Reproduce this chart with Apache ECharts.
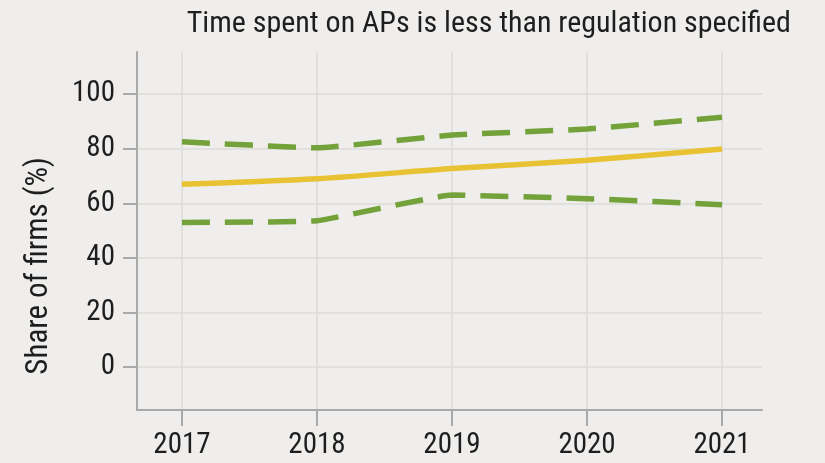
<!DOCTYPE html>
<html>
<head>
<meta charset="utf-8">
<script src="https://cdn.jsdelivr.net/npm/echarts@6/dist/echarts.min.js"></script>
<style>
  html, body { margin: 0; padding: 0; background: #efeeec; }
  #chart { width: 825px; height: 463px; }
</style>
</head>
<body>
<div id="chart"></div>
<script>
// values
const years = [2017, 2018, 2019, 2020, 2021];
const shareMid = [67.0, 69.0, 72.7, 75.8, 79.9];
const upperBand = [82.5, 80.3, 85.0, 87.2, 91.5];
const lowerBand = [53.0, 53.6, 63.0, 61.7, 59.5];
const yTicks = [0, 20, 40, 60, 80, 100];

const FONT = "'Liberation Sans Narrow', 'Roboto Condensed', 'DejaVu Sans Condensed', sans-serif";
const AXIS_GREY = '#a9a9a9';
const GRID_GREY = '#dcdbd9';

const pairs = (vals) => years.map((y, i) => [y, vals[i]]);

const myChart = echarts.init(document.getElementById('chart'));

const option = {
    backgroundColor: '#efeeec',
    animation: false,
    title: {
        text: 'Time spent on APs is less than regulation specified',
        right: 29,
        top: 4,
        textStyle: { fontFamily: FONT, fontSize: 30, fontWeight: 'normal', color: '#1e1e1e' }
    },
    grid: { left: 137, right: 63, top: 52, bottom: 53 },
    xAxis: {
        type: 'value',
        min: 2016.667,
        max: 2021.296,
        axisLine: { onZero: false, lineStyle: { color: AXIS_GREY, width: 2 } },
        axisTick: { customValues: years, length: 16, lineStyle: { color: AXIS_GREY, width: 2 } },
        axisLabel: {
            customValues: years,
            formatter: (v) => String(Math.round(v)),
            margin: 21,
            fontFamily: FONT, fontSize: 29, color: '#1e1e1e'
        },
        splitLine: { show: true, lineStyle: { color: GRID_GREY, width: 1.5 } }
    },
    yAxis: {
        type: 'value',
        min: -15.7,
        max: 115.4,
        axisLine: { show: true, onZero: false, lineStyle: { color: AXIS_GREY, width: 2 } },
        axisTick: { show: true, customValues: yTicks, length: 14, lineStyle: { color: AXIS_GREY, width: 2 } },
        axisLabel: {
            customValues: yTicks,
            margin: 22,
            fontFamily: FONT, fontSize: 29, color: '#1e1e1e'
        },
        splitLine: { show: true, lineStyle: { color: GRID_GREY, width: 1.5 } }
    },
    graphic: [{
        type: 'text',
        left: 24,
        top: 157,
        style: {
            text: 'Share of firms (%)',
            font: '31px ' + FONT,
            fill: '#1e1e1e'
        },
        rotation: Math.PI / 2,
        originX: 0,
        originY: 0
    }],
    series: [
        {
            name: 'upper',
            type: 'line',
            data: pairs(upperBand),
            showSymbol: false,
            smooth: 0.1,
            lineStyle: { color: '#74a23a', width: 5.5, type: [28, 15], cap: 'butt' }
        },
        {
            name: 'lower',
            type: 'line',
            data: pairs(lowerBand),
            showSymbol: false,
            smooth: 0.1,
            lineStyle: { color: '#74a23a', width: 5.5, type: [28, 15], cap: 'butt' }
        },
        {
            name: 'share',
            type: 'line',
            data: pairs(shareMid),
            showSymbol: false,
            smooth: 0.3,
            lineStyle: { color: '#e8c232', width: 5.5 }
        }
    ]
};
myChart.setOption(option);
</script>
</body>
</html>
